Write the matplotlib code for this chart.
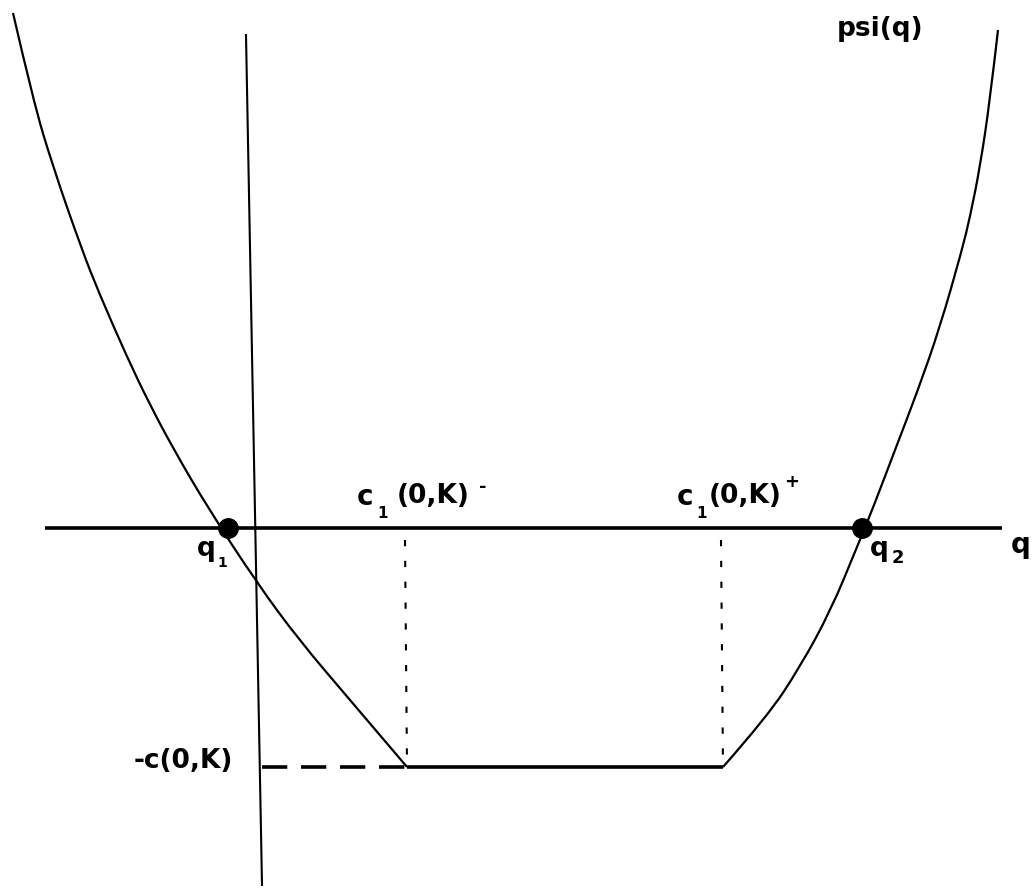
import numpy as np
import matplotlib
matplotlib.use('Agg')
import matplotlib.pyplot as plt
from matplotlib.path import Path
from matplotlib.patches import PathPatch

plt.rcParams['font.family'] = ['DejaVu Sans']

# psi(q), left branch (down to the flat part)
left_q = [-2.45, -2.25, -2.05, -1.76, -1.59, -1.31, -1.09, -0.84, -0.50, -0.01, 0.41, 0.92, 1.49]
left_psi = [5.15, 4.28, 3.61, 2.78, 2.35, 1.71, 1.25, 0.78, 0.20, -0.55, -1.12, -1.72, -2.39]

# right branch (from the flat part up)
right_q = [4.65, 5.09, 5.42, 5.73, 5.99, 6.15, 6.37, 6.60, 6.82, 7.04, 7.12, 7.22, 7.32, 7.40]
right_psi = [-2.39, -1.89, -1.39, -0.82, -0.19, 0.20, 0.78, 1.38, 2.01, 2.78, 3.11, 3.61, 4.28, 4.98]

# flat part: -c(0,K) between c1(0,K)- and c1(0,K)+
c_min = -2.39
c1_minus = 1.49
c1_plus = 4.65

# roots
q1 = -0.30
q2 = 6.04

# axes extents
q_axis = [-2.13, 7.44]
psi_axis_q = [-0.12, 0.04]
psi_axis_y = [4.93, -3.57]


def smooth_curve(xs, ys):
    # quadratic bezier through the midpoints, read points used as controls
    pts = list(zip(xs, ys))
    verts = [pts[0]]
    codes = [Path.MOVETO]
    for i in range(1, len(pts) - 1):
        mid = ((pts[i][0] + pts[i + 1][0]) / 2, (pts[i][1] + pts[i + 1][1]) / 2)
        if i == len(pts) - 2:
            mid = pts[i + 1]
        verts += [pts[i], mid]
        codes += [Path.CURVE3, Path.CURVE3]
    return Path(verts, codes)


fig = plt.figure(figsize=(10.33, 8.89), dpi=100)
ax = fig.add_axes([0, 0, 1, 1])
ax.set_xlim(-2.58, 7.75)
ax.set_ylim(-3.61, 5.28)
ax.axis('off')

# axes
ax.plot(q_axis, [0, 0], color='black', lw=2.6, solid_capstyle='butt')
ax.plot(psi_axis_q, psi_axis_y, color='black', lw=1.5)

# curve
for xs, ys in [(left_q, left_psi), (right_q, right_psi)]:
    ax.add_patch(PathPatch(smooth_curve(xs, ys), fill=False, edgecolor='black', lw=1.6))
ax.plot([c1_minus, c1_plus], [c_min, c_min], color='black', lw=2.6, solid_capstyle='butt')

# dashed line to the psi axis
ax.plot([0.04, c1_minus], [c_min, c_min], color='black', lw=2.6,
        linestyle=(0, (7, 3.8)), dash_capstyle='butt')

# dotted verticals
for xv in [c1_minus, c1_plus]:
    ax.plot([xv - 0.02, xv], [-0.12, c_min], color='black', lw=1.5,
            linestyle=(0, (3, 7)), dash_capstyle='butt')

# roots
ax.plot([q1, q2], [0, 0], 'o', color='black', markersize=14)

fs = 19
kw = dict(color='black', fontweight='bold')
ax.text(6.22, 4.92, 'psi(q)', fontsize=fs, ha='center', va='baseline', **kw)
ax.text(7.63, -0.25, 'q', fontsize=fs + 1, ha='center', va='baseline', **kw)

ax.text(-0.61, -0.28, 'q', fontsize=fs, ha='left', va='baseline', **kw)
ax.text(-0.41, -0.39, '1', fontsize=10, ha='left', va='baseline', **kw)
ax.text(6.12, -0.28, 'q', fontsize=fs, ha='left', va='baseline', **kw)
ax.text(6.34, -0.35, '2', fontsize=13, ha='left', va='baseline', **kw)

# c1(0,K)-
ax.text(1.07, 0.23, 'c', fontsize=fs + 1, ha='center', va='baseline', **kw)
ax.text(1.25, 0.10, '1', fontsize=11, ha='center', va='baseline', **kw)
ax.text(1.39, 0.25, '(0,K)', fontsize=fs, ha='left', va='baseline', **kw)
ax.text(2.25, 0.41, '-', fontsize=13, ha='center', va='center', **kw)

# c1(0,K)+
ax.text(4.27, 0.23, 'c', fontsize=fs + 1, ha='center', va='baseline', **kw)
ax.text(4.44, 0.10, '1', fontsize=11, ha='center', va='baseline', **kw)
ax.text(4.51, 0.25, '(0,K)', fontsize=fs, ha='left', va='baseline', **kw)
ax.text(5.34, 0.46, '+', fontsize=13, ha='center', va='center', **kw)

ax.text(-0.25, -2.40, '-c(0,K)', fontsize=fs, ha='right', va='baseline', **kw)

plt.savefig('out.png', dpi=100)
